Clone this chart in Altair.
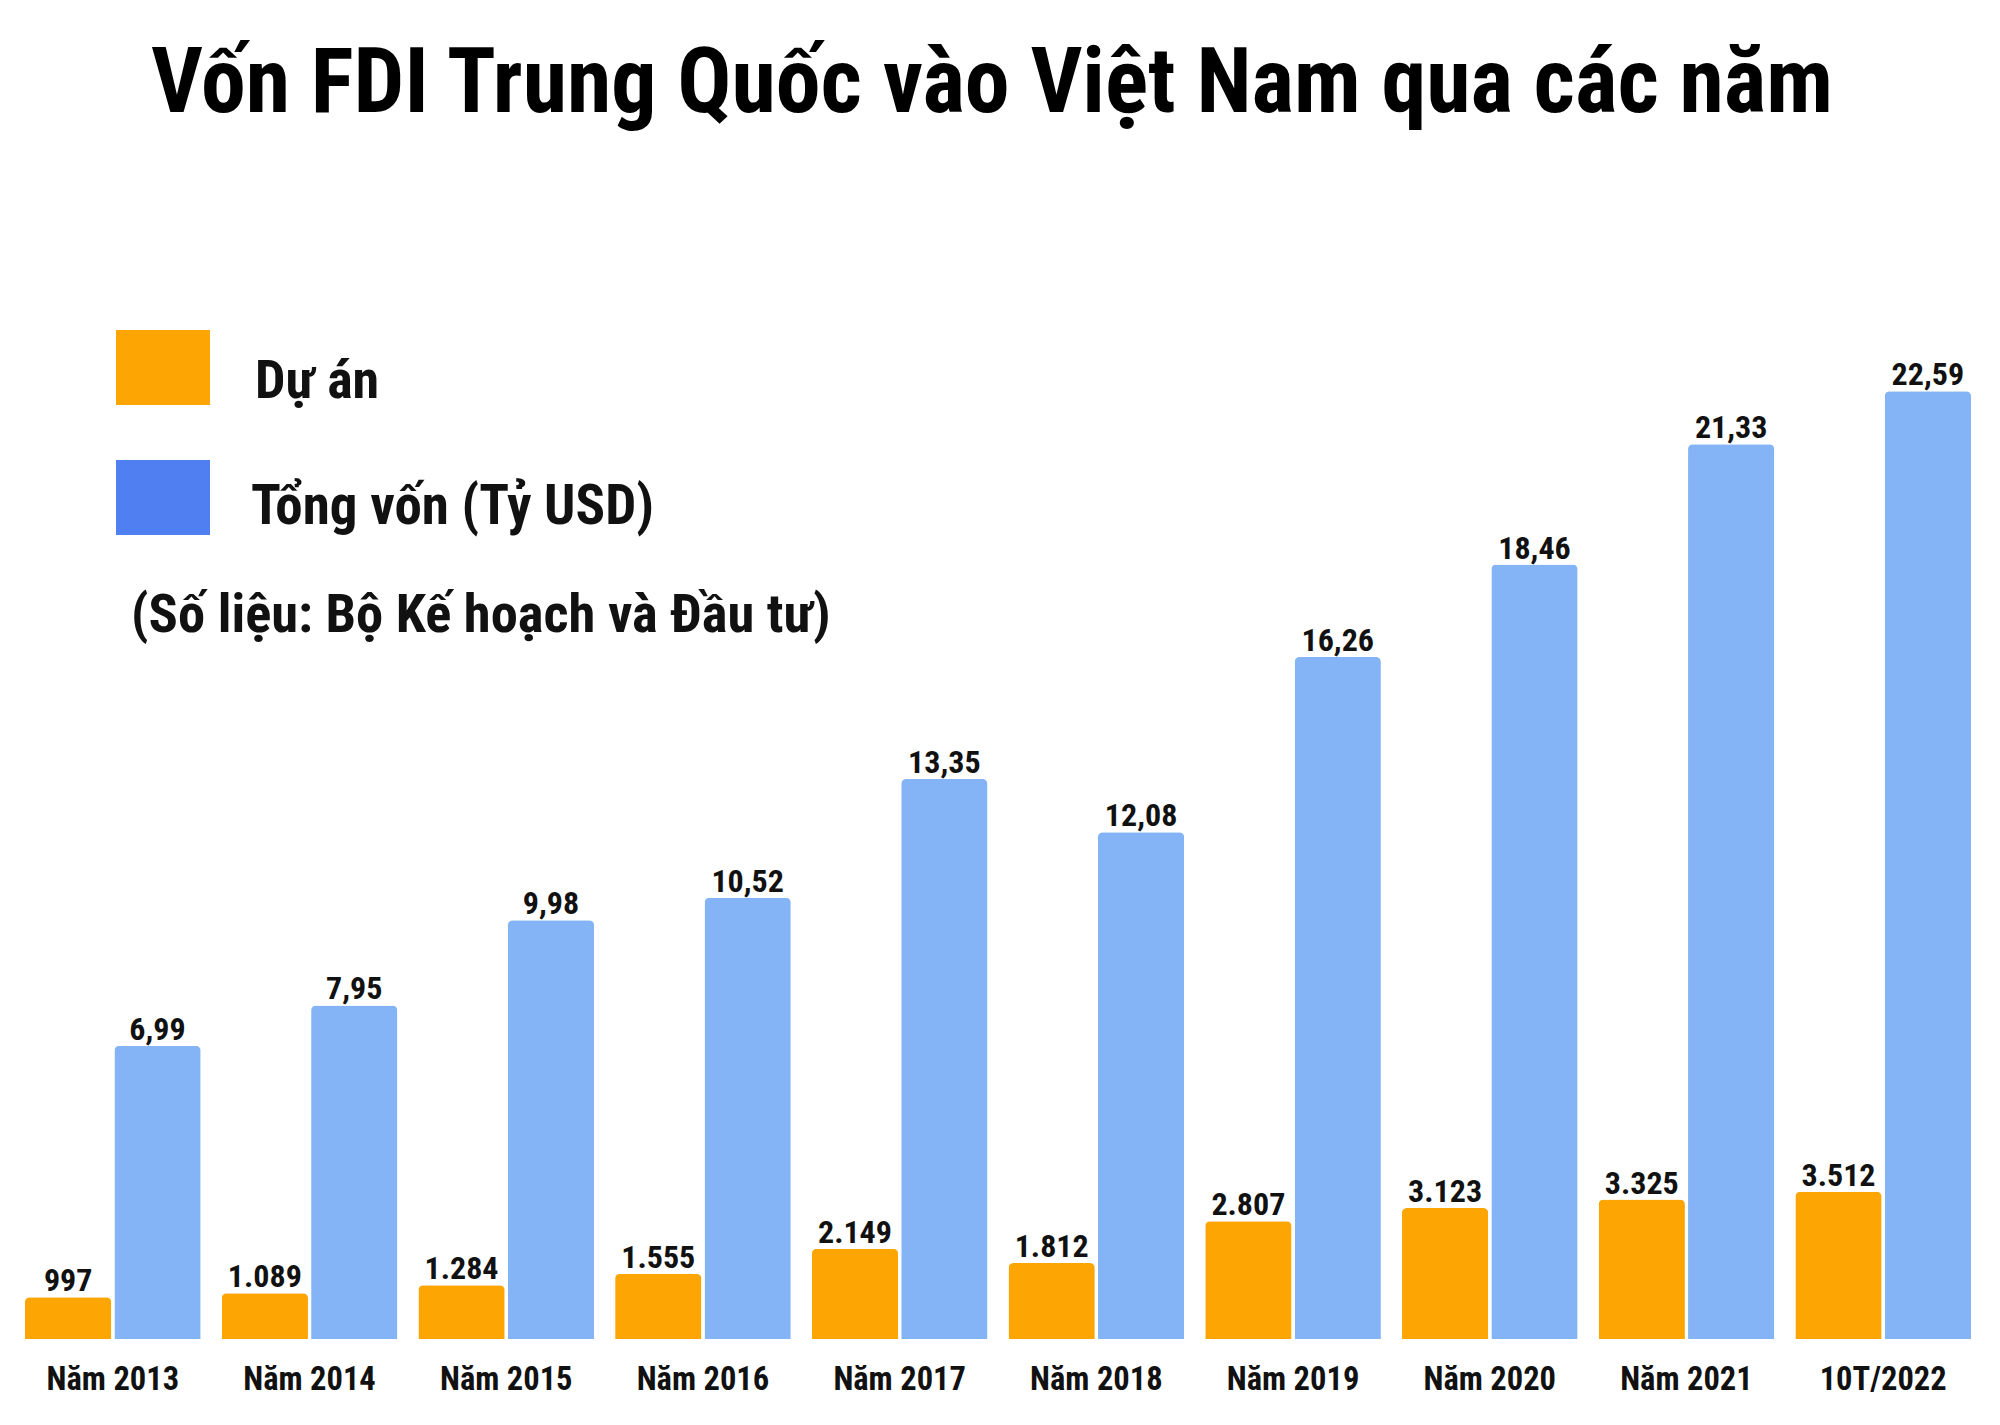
import altair as alt
import pandas as pd

# ---- data ----
categories = ["Năm 2013", "Năm 2014", "Năm 2015", "Năm 2016", "Năm 2017",
              "Năm 2018", "Năm 2019", "Năm 2020", "Năm 2021", "10T/2022"]
du_an = [997, 1089, 1284, 1555, 2149, 1812, 2807, 3123, 3325, 3512]
du_an_labels = ["997", "1.089", "1.284", "1.555", "2.149", "1.812", "2.807", "3.123", "3.325", "3.512"]
tong_von = [6.99, 7.95, 9.98, 10.52, 13.35, 12.08, 16.26, 18.46, 21.33, 22.59]
tong_von_labels = ["6,99", "7,95", "9,98", "10,52", "13,35", "12,08", "16,26", "18,46", "21,33", "22,59"]
series_names = ["Dự án", "Tổng vốn (Tỷ USD)"]
bar_colors = ["#FDA503", "#84B4F5"]
legend_colors = ["#FDA503", "#4F7FF0"]
title_text = "Vốn FDI Trung Quốc vào Việt Nam qua các năm"
source_text = "(Số liệu: Bộ Kế hoạch và Đầu tư)"

FONT = "Roboto Condensed, Liberation Sans Narrow, Roboto, Liberation Sans, sans-serif"

rows = []
for c, v, l in zip(categories, du_an, du_an_labels):
    rows.append({"category": c, "series": series_names[0], "plot": v / 1000.0, "label": l})
for c, v, l in zip(categories, tong_von, tong_von_labels):
    rows.append({"category": c, "series": series_names[1], "plot": v, "label": l})
df = pd.DataFrame(rows)

PX_PER_UNIT = 41.95
BASE_Y = 1339

x_enc = alt.X("category:N", sort=categories,
              scale=alt.Scale(range=[25, 1971], paddingInner=0.107, paddingOuter=0),
              axis=alt.Axis(title=None, labelAngle=0, domain=False, ticks=False, grid=False,
                            labelFontSize=32.5, labelFont=FONT, labelFontWeight="bold",
                            labelColor="#111111", labelPadding=50, labelBaseline="alphabetic"))
xoff_enc = alt.XOffset("series:N", sort=series_names,
                       scale=alt.Scale(paddingInner=0.035, paddingOuter=0))
y_enc = alt.Y("plot:Q", scale=alt.Scale(domain=[0, BASE_Y / PX_PER_UNIT], nice=False, zero=True),
              axis=None)

base = alt.Chart(df).encode(x=x_enc, xOffset=xoff_enc, y=y_enc)

bars = base.mark_bar(cornerRadiusTopLeft=5, cornerRadiusTopRight=5).encode(
    color=alt.Color("series:N", sort=series_names,
                    scale=alt.Scale(domain=series_names, range=bar_colors), legend=None)
)
labels = base.mark_text(baseline="alphabetic", align="center", dy=-6, fontSize=32,
                        font=FONT, fontWeight="bold", color="#111111").encode(text="label:N")

one = pd.DataFrame({"t": [title_text]})
title = alt.Chart(one).mark_text(align="center", baseline="alphabetic", fontSize=90,
                                 font=FONT, fontWeight="bold", color="#000000").encode(
    x=alt.value(992), y=alt.value(112), text="t:N")

leg_df1 = pd.DataFrame({"t": [series_names[0]]})
leg_df2 = pd.DataFrame({"t": [series_names[1]]})
src_df = pd.DataFrame({"t": [source_text]})

sq1 = alt.Chart(leg_df1).mark_rect(color=legend_colors[0]).encode(
    x=alt.value(116), x2=alt.value(210), y=alt.value(330), y2=alt.value(405))
sq2 = alt.Chart(leg_df2).mark_rect(color=legend_colors[1]).encode(
    x=alt.value(116), x2=alt.value(210), y=alt.value(460), y2=alt.value(535))
t1 = alt.Chart(leg_df1).mark_text(align="left", baseline="alphabetic", fontSize=54, font=FONT,
                                  fontWeight="bold", color="#111111").encode(
    x=alt.value(255), y=alt.value(398), text="t:N")
t2 = alt.Chart(leg_df2).mark_text(align="left", baseline="alphabetic", fontSize=55, font=FONT,
                                  fontWeight="bold", color="#111111").encode(
    x=alt.value(251), y=alt.value(524), text="t:N")
t3 = alt.Chart(src_df).mark_text(align="left", baseline="alphabetic", fontSize=54.5, font=FONT,
                                 fontWeight="bold", color="#111111").encode(
    x=alt.value(131), y=alt.value(632), text="t:N")

chart = alt.layer(bars, labels, title, sq1, sq2, t1, t2, t3).properties(
    width=2000, height=BASE_Y,
    autosize=alt.AutoSizeParams(type="none"),
    padding={"left": 0, "top": 0, "right": 0, "bottom": 86},
    background="white",
).configure_view(stroke=None)

chart.save("out.html", embed_options={"renderer": "svg", "actions": False})
